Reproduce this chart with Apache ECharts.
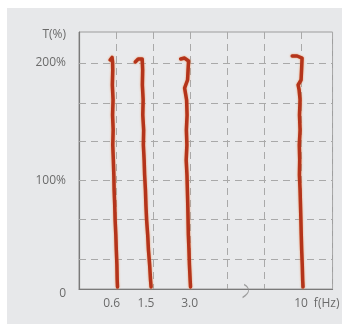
<!DOCTYPE html>
<html><head><meta charset="utf-8">
<script src="https://cdn.jsdelivr.net/npm/echarts@6/dist/echarts.min.js"></script>
<style>html,body{margin:0;padding:0;background:#fff}#c{width:342px;height:324px}</style>
</head><body><div id="c"></div>
<script>
// x positions in grid-cell units (one cell per dashed column), y in percent
const xTickLabels = {0.88: '0.6', 1.81: '1.5', 2.99: '3.0', 6.0: '10'};
const xLabelPositions = [0.88, 1.81, 2.99, 6.0];
const yTickLabels = {0: '0', 100: '100%', 200: '200%'};
const gridRows = [26.5, 61.8, 96.3, 130.7, 164.3, 199.6];

const trace06x = [0.84, 0.893, 0.907, 0.912, 0.901, 0.92, 0.907, 0.923, 0.912, 0.928, 0.941, 0.949, 0.965, 0.976, 0.995, 1.008, 1.024, 1.032, 1.04];
const trace06y = [202.3, 204.5, 200.5, 193.4, 180.2, 167, 153.7, 140.4, 127.2, 113.9, 100.7, 87.4, 74.2, 60.9, 47.7, 34.4, 21.2, 7.9, 1.8];

const trace15x = [1.52, 1.6, 1.707, 1.72, 1.712, 1.733, 1.723, 1.747, 1.739, 1.76, 1.773, 1.795, 1.808, 1.827, 1.856, 1.877, 1.909, 1.933, 1.947];
const trace15y = [200.5, 203.2, 203.2, 193.4, 180.2, 167, 153.7, 140.4, 127.2, 113.9, 100.7, 87.4, 74.2, 60.9, 47.7, 34.4, 21.2, 7.9, 1.8];

const trace30x = [2.747, 2.853, 2.96, 2.947, 2.933, 2.853, 2.907, 2.92, 2.901, 2.915, 2.896, 2.917, 2.928, 2.939, 2.947, 2.955, 2.971, 2.984, 3.003, 3.013];
const trace30y = [203.2, 204, 201.4, 193.4, 184.6, 177.5, 167, 153.7, 140.4, 127.2, 113.9, 100.7, 87.4, 74.2, 60.9, 47.7, 34.4, 21.2, 7.9, 1.8];

const trace10x = [5.76, 5.893, 6.027, 6.013, 6.0, 5.92, 5.947, 5.973, 5.957, 5.973, 5.952, 5.963, 5.955, 5.973, 5.984, 5.995, 6.005, 6.016, 6.032, 6.043, 6.053];
const trace10y = [205.8, 205.8, 204, 193.4, 184.6, 180.2, 175.8, 167, 153.7, 140.4, 127.2, 113.9, 100.7, 87.4, 74.2, 60.9, 47.7, 34.4, 21.2, 7.9, 1.8];

const breakX = [4.5];

const zip = (xs, ys) => xs.map((x, i) => [x, ys[i]]);
const col = '#6b6b6b';
const font = '"Open Sans", sans-serif';
const dash = {color: '#a9a9a9', type: [7, 5], width: 1};

function traceSeries(xs, ys) {
  return {
    type: 'line', xAxisIndex: 0, yAxisIndex: 0, data: zip(xs, ys),
    showSymbol: false, silent: true, z: 5,
    lineStyle: {color: '#b4341b', width: 3.5, cap: 'round', join: 'round',
      shadowColor: 'rgba(235,140,80,0.9)', shadowBlur: 2}
  };
}

const chart = echarts.init(document.getElementById('c'), null, {renderer: 'canvas'});
chart.setOption({
  animation: false,
  backgroundColor: '#ffffff',
  graphic: [{type: 'rect', left: 7, top: 8, shape: {width: 335, height: 316}, style: {fill: '#e7e8ea'}, z: -10}],
  grid: {left: 79, top: 32, right: 6, bottom: 35, show: true, backgroundColor: '#e9eaec', borderColor: '#9c9c9c', borderWidth: 1},
  xAxis: [{
    type: 'value', min: 0, max: 6.85, interval: 1,
    axisLine: {show: true, onZero: false, lineStyle: {color: '#7a7a7a', width: 1.2}},
    axisTick: {show: false}, axisLabel: {show: false},
    splitLine: {show: true, lineStyle: dash}
  }, {
    type: 'value', min: 0, max: 6.85, position: 'bottom',
    axisLine: {show: false}, axisTick: {show: false}, splitLine: {show: false},
    name: 'f(Hz)', nameLocation: 'end', nameGap: -27,
    nameTextStyle: {color: col, fontSize: 12, fontFamily: font, align: 'left', verticalAlign: 'top', padding: [9, 0, 0, 0]},
    axisLabel: {customValues: xLabelPositions, color: col, fontSize: 12, fontFamily: font, margin: 9,
      formatter: v => xTickLabels[v] || ''}
  }],
  yAxis: [{
    type: 'value', min: 0, max: 227, interval: 100,
    axisLine: {show: true, onZero: false, lineStyle: {color: '#7a7a7a', width: 1.2}},
    axisTick: {show: false}, splitLine: {show: false},
    name: 'T(%)', nameLocation: 'end', nameGap: -3,
    nameTextStyle: {color: col, fontSize: 12, fontFamily: font, align: 'right', verticalAlign: 'middle', padding: [0, 13, 0, 0]},
    axisLabel: {color: col, fontSize: 12, fontFamily: font, margin: 13, showMaxLabel: false,
      formatter: v => yTickLabels[v] !== undefined ? (v < 200 ? '{lo|' + yTickLabels[v] + '}' : yTickLabels[v]) : '',
      rich: {lo: {color: col, fontSize: 12, fontFamily: font, padding: [9, 0, 0, 0]}}}
  }],
  series: [
    {
      type: 'line', xAxisIndex: 0, yAxisIndex: 0, data: [], z: 1, silent: true,
      markLine: {silent: true, symbol: 'none', label: {show: false}, lineStyle: dash,
        data: gridRows.map(v => ({yAxis: v}))}
    },
    traceSeries(trace06x, trace06y),
    traceSeries(trace15x, trace15y),
    traceSeries(trace30x, trace30y),
    traceSeries(trace10x, trace10y),
    {
      type: 'scatter', xAxisIndex: 0, yAxisIndex: 0, data: breakX.map(x => [x, 0]),
      clip: false, silent: true, z: 6,
      symbol: 'path://M3,0 C7,4 7,9 2,14', symbolSize: [6, 13], symbolOffset: [0, 2],
      itemStyle: {color: 'rgba(0,0,0,0)', borderColor: '#8a8a8a', borderWidth: 1.2}
    }
  ]
});
</script></body></html>
